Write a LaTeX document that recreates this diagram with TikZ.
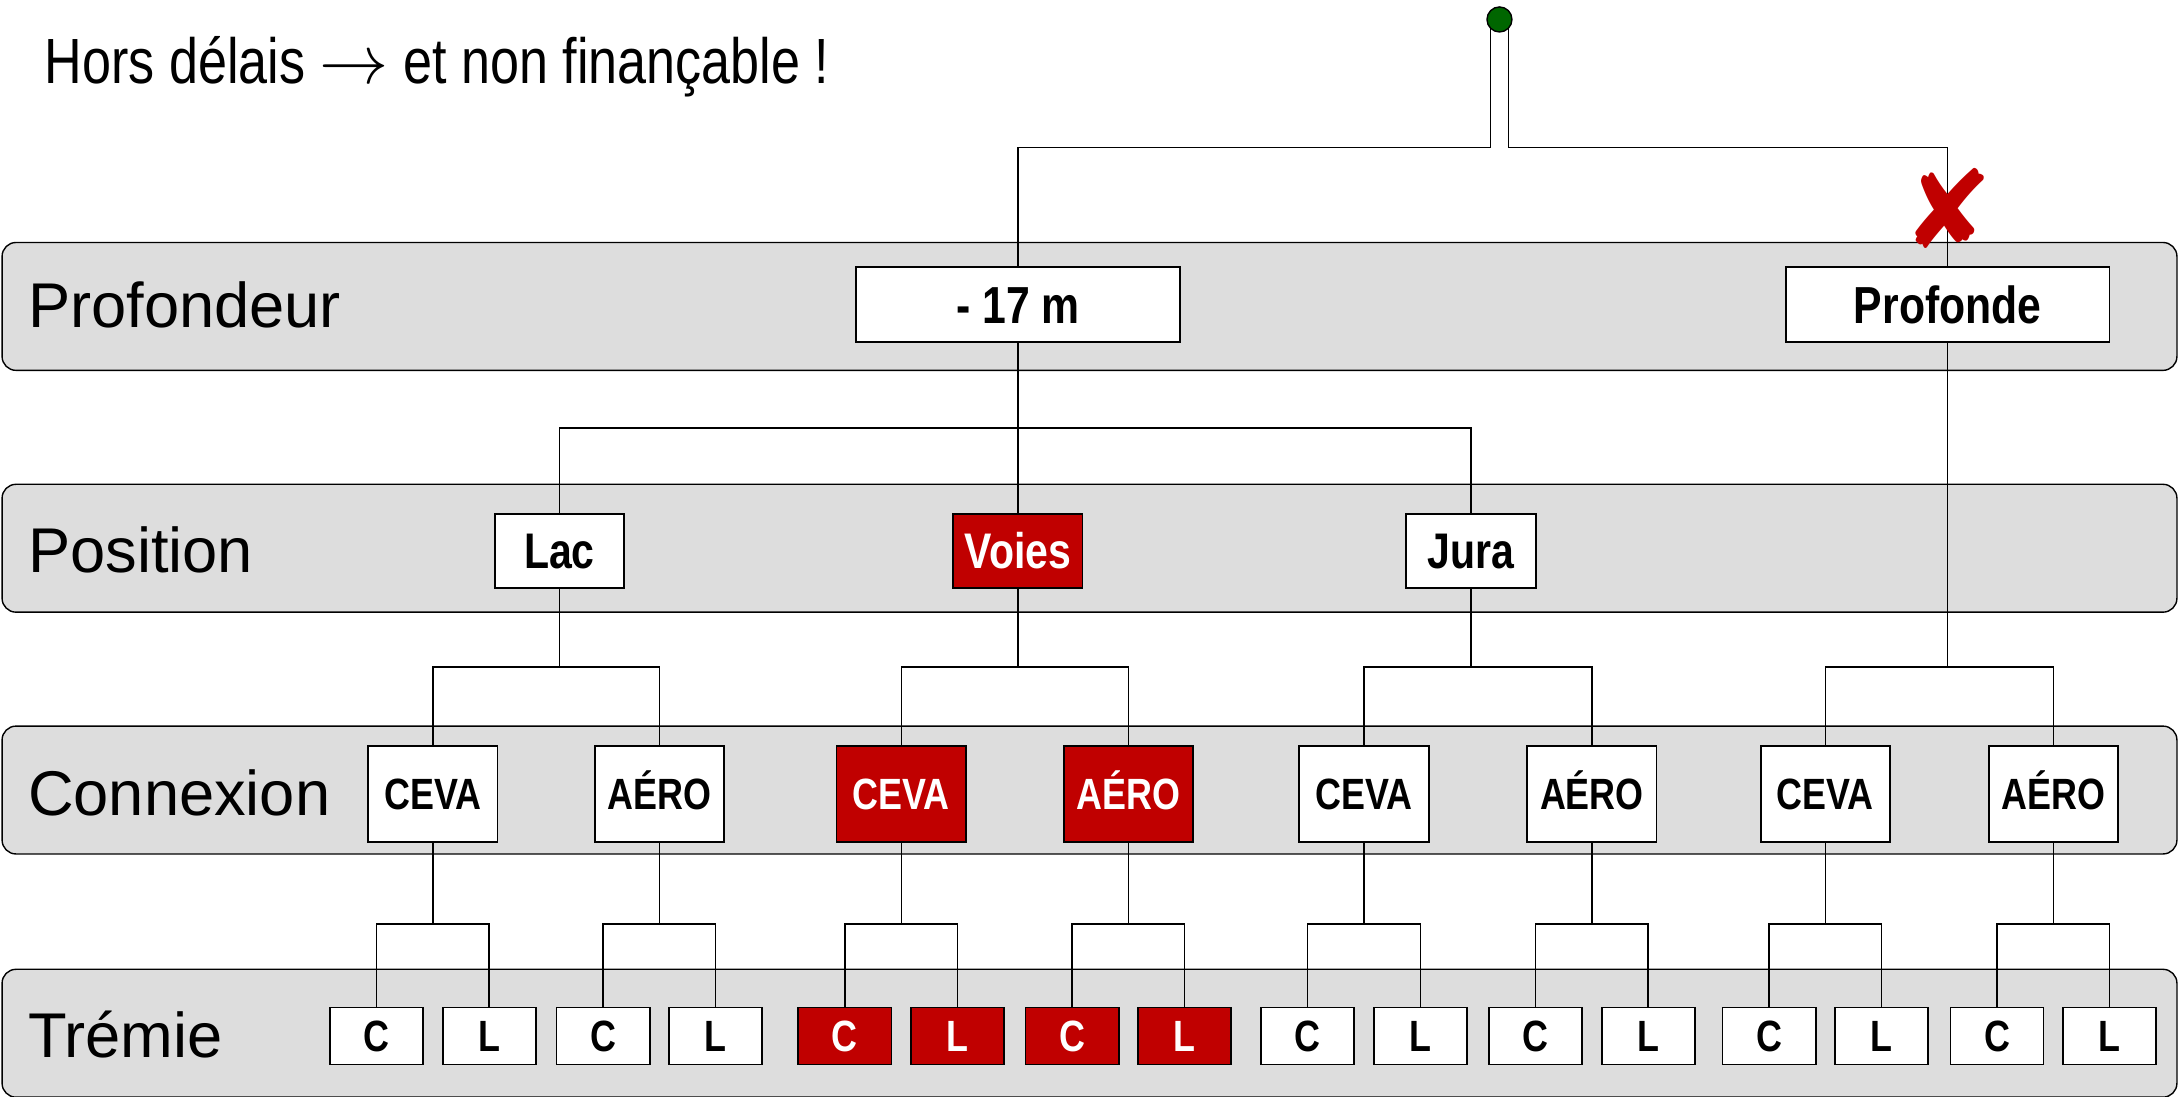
\documentclass[tikz,border=0pt]{standalone}
\usepackage{fontspec}
\setmainfont{Liberation Sans}
\newfontfamily\narrowfont[FakeStretch=0.82]{Liberation Sans}
\newfontfamily\titlefont[FakeStretch=0.815]{Liberation Sans}
\newfontfamily\symbfont{DejaVu Sans}
\usetikzlibrary{calc}
\definecolor{bandgray}{RGB}{221,221,221}
\definecolor{selred}{RGB}{192,0,0}
\definecolor{rootgreen}{RGB}{0,102,0}
\tikzset{
  band/.style={draw=black, line width=1pt, fill=bandgray, rounded corners=10pt,
    minimum width=1565pt, minimum height=92pt, inner sep=0pt, anchor=north west},
  bandlabel/.style={anchor=base west, inner sep=0pt, font=\fontsize{45.5}{50}\selectfont},
  box/.style={draw=black, line width=1.3pt, fill=white, inner sep=0pt, text depth=0pt},
  boxone/.style={box, minimum width=233pt, minimum height=54pt, text height=26.9pt,
    font=\narrowfont\bfseries\fontsize{37.5}{40}\selectfont},
  boxtwo/.style={box, minimum width=93pt, minimum height=53pt, text height=25.8pt,
    font=\narrowfont\bfseries\fontsize{36}{40}\selectfont},
  boxthree/.style={box, minimum width=93pt, minimum height=69pt, text height=22.6pt,
    font=\narrowfont\bfseries\fontsize{31.5}{34}\selectfont},
  boxfour/.style={box, minimum width=67pt, minimum height=41pt, text height=22.6pt,
    font=\narrowfont\bfseries\fontsize{31.5}{34}\selectfont},
  sel/.style={fill=selred, text=white},
  conn/.style={draw=black, line width=1pt},
}
\begin{document}
\begin{tikzpicture}[x=1pt, y=-1pt]
\useasboundingbox (0,0) rectangle (1568,789);

% bands
\node[band] (bandA) at (1,174) {};
\node[band] (bandB) at (1,348) {};
\node[band] (bandC) at (1,522) {};
\node[band] (bandD) at (1,697) {};

\node[bandlabel] (labA) at (20,236) {Profondeur};
\node[bandlabel] (labB) at (20,412) {Position};
\node[bandlabel] (labC) at (20,587) {Connexion};
\node[bandlabel] (labD) at (20,761) {Trémie};

% title
\node[anchor=base west, inner sep=0pt, font=\titlefont\fontsize{46}{50}\selectfont] (title) at (32,60) {Hors délais \scalebox{2}{$\rightarrow$} et non finançable !};

% root
\node[circle, draw=black, line width=1pt, fill=rootgreen, minimum size=18pt, inner sep=0pt] (root) at (1079,14) {};

% level 1
\node[boxone] (m17) at (732.5,219) {- 17 m};
\node[boxone] (prof) at (1401.5,219) {Profonde};

% level 2
\node[boxtwo] (lac) at (402.5,396.5) {Lac};
\node[boxtwo, sel] (voies) at (732.5,396.5) {Voies};
\node[boxtwo] (jura) at (1058.5,396.5) {Jura};

% level 3
\node[boxthree] (c1) at (311.5,571.5) {CEVA};
\node[boxthree] (a1) at (474.5,571.5) {AÉRO};
\node[boxthree, sel] (c2) at (648.5,571.5) {CEVA};
\node[boxthree, sel] (a2) at (812,571.5) {AÉRO};
\node[boxthree] (c3) at (981.5,571.5) {CEVA};
\node[boxthree] (a3) at (1145.5,571.5) {AÉRO};
\node[boxthree] (c4) at (1313.5,571.5) {CEVA};
\node[boxthree] (a4) at (1477.5,571.5) {AÉRO};

% level 4
\foreach \p/\s in {c1/, a1/, c2/sel, a2/sel, c3/, a3/, c4/, a4/}{
  \node[boxfour, \s] (\p C) at ($(\p.center)+(-40.5,174)$) {C};
  \node[boxfour, \s] (\p L) at ($(\p.center)+(40.5,174)$) {L};
}

% root connectors
\draw[conn] ([xshift=-6.5pt,yshift=2.8pt]root.south) |- (m17.north |- 0,106) -- (m17.north);
\draw[conn] ([xshift=6.5pt,yshift=2.8pt]root.south) |- (prof.north |- 0,106) -- (prof.north);

% red cross
\node[text=selred, inner sep=0pt, font=\symbfont\fontsize{78}{80}\selectfont] (xmark) at (1402,150) {✘};

% level 1 -> 2
\draw[conn] (m17.south) -- (voies.north);
\draw[conn] (lac.north) |- (jura.north |- 0,308) -- (jura.north);

% level 2 -> 3
\foreach \p/\a/\b in {lac/c1/a1, voies/c2/a2, jura/c3/a3, prof/c4/a4}{
  \draw[conn] (\p.south) -- (\p.south |- 0,480);
  \draw[conn] (\a.north) |- (\b.north |- 0,480) -- (\b.north);
}

% level 3 -> 4
\foreach \p in {c1,a1,c2,a2,c3,a3,c4,a4}{
  \draw[conn] (\p.south) -- (\p.south |- 0,665);
  \draw[conn] (\p C.north) |- (\p L.north |- 0,665) -- (\p L.north);
}
\end{tikzpicture}
\end{document}
